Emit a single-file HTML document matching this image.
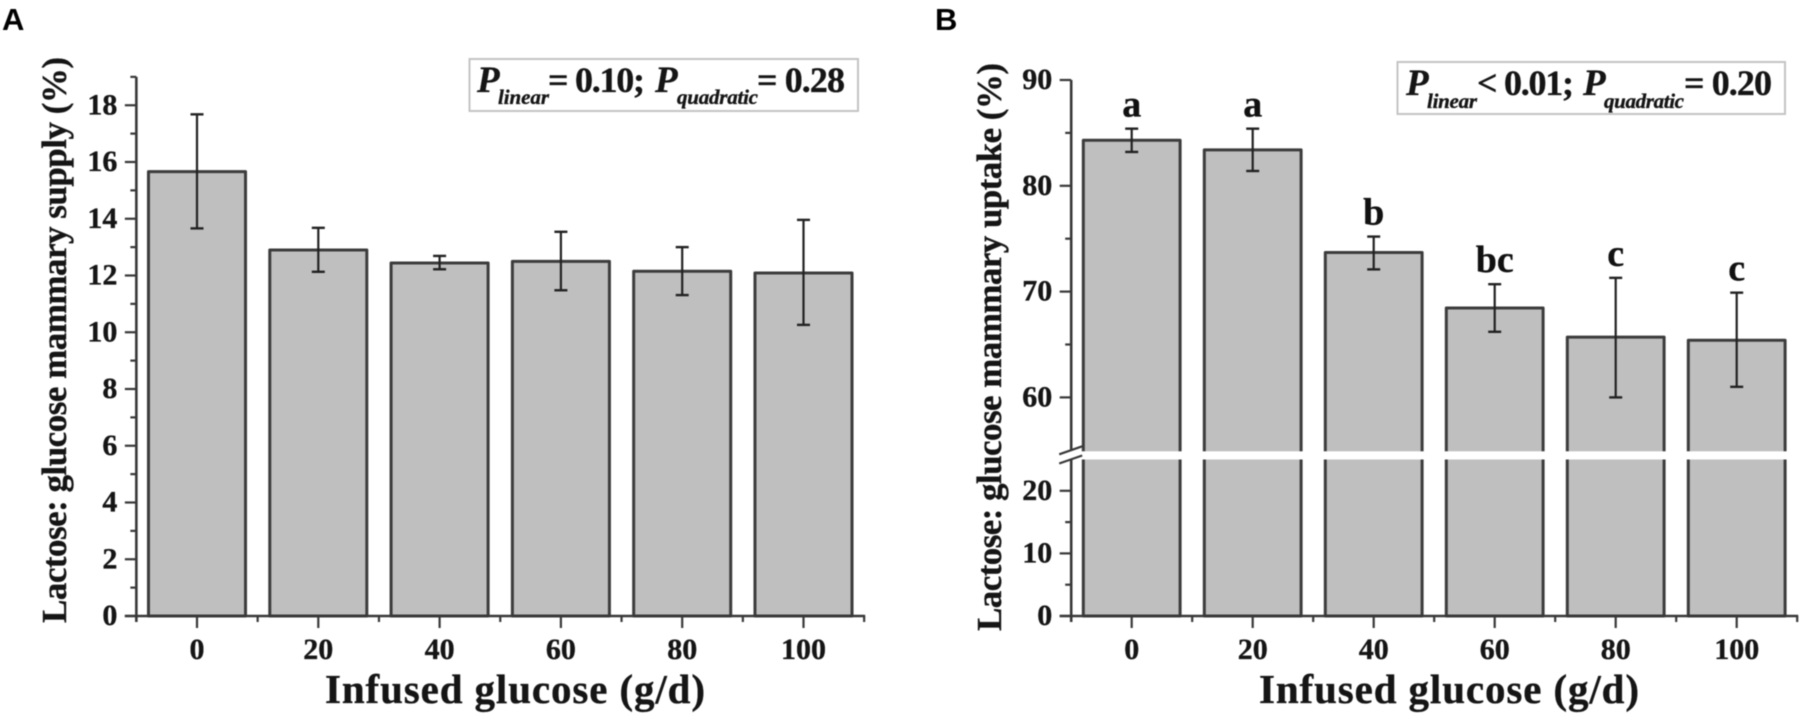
<!DOCTYPE html>
<html lang="en">
<head>
<meta charset="utf-8">
<title>Lactose: glucose mammary supply and uptake</title>
<style>
html,body{margin:0;padding:0;background:#fff;width:1800px;height:717px;overflow:hidden}
svg{display:block;filter:blur(0.6px)}
text{font-family:"Liberation Serif",serif;font-weight:bold;fill:#151515;stroke:#151515;stroke-width:.35px}
.panel{font-family:"Liberation Sans",sans-serif;font-size:31px;fill:#000;stroke:none}
.tick{font-size:30px}
.axt{font-size:41px}
.yt{font-size:35px}
.p{font-size:37px;font-style:italic}
.sub{font-size:21px;font-style:italic}
.eq{font-size:36px}
.sig{font-size:38px;fill:#111}
</style>
</head>
<body>
<svg id="fig" xmlns="http://www.w3.org/2000/svg" width="1800" height="717" viewBox="0 0 1800 717">
  <rect width="1800" height="717" fill="#fff"/>
  <text class="panel" x="2" y="30">A</text>
  <text class="panel" x="935" y="30">B</text>

  <g id="plotA"></g>
  <g id="plotB"></g>

  <text class="yt" transform="translate(66,623) rotate(-90)" textLength="566" lengthAdjust="spacing">Lactose: glucose mammary supply (%)</text>
  <text class="yt" transform="translate(1001,631) rotate(-90)" textLength="568" lengthAdjust="spacing">Lactose: glucose mammary uptake (%)</text>
  <text class="axt" x="325" y="703" textLength="380" lengthAdjust="spacing">Infused glucose (g/d)</text>
  <text class="axt" x="1259" y="703" textLength="380" lengthAdjust="spacing">Infused glucose (g/d)</text>

  <g>
    <rect x="469.5" y="59" width="388.5" height="52" fill="#fff" stroke="#c4c4c4" stroke-width="2"/>
    <text class="p" x="477" y="92">P</text>
    <text class="sub" x="498" y="104" textLength="51" lengthAdjust="spacing">linear</text>
    <text class="eq" x="548" y="92" textLength="97" lengthAdjust="spacing">= 0.10;</text>
    <text class="p" x="655" y="92">P</text>
    <text class="sub" x="677" y="104" textLength="81" lengthAdjust="spacing">quadratic</text>
    <text class="eq" x="757" y="92" textLength="88" lengthAdjust="spacing">= 0.28</text>
  </g>
  <g>
    <rect x="1397.5" y="62" width="387.5" height="52" fill="#fff" stroke="#c4c4c4" stroke-width="2"/>
    <text class="p" x="1406" y="95">P</text>
    <text class="sub" x="1427" y="108" textLength="50" lengthAdjust="spacing">linear</text>
    <text class="eq" x="1477" y="95" textLength="97" lengthAdjust="spacing">&lt; 0.01;</text>
    <text class="p" x="1583" y="95">P</text>
    <text class="sub" x="1604" y="108" textLength="80" lengthAdjust="spacing">quadratic</text>
    <text class="eq" x="1684" y="95" textLength="88" lengthAdjust="spacing">= 0.20</text>
  </g>
</svg>
<script>
// ---- Shared categories ----
const categories = [0, 20, 40, 60, 80, 100];
const xMinorTicks = [-10, 10, 30, 50, 70, 90, 110];

// ---- Panel A data ----
const supplyMeans = [15.66, 12.9, 12.44, 12.5, 12.15, 12.09];
const supplyUpper = [17.68, 13.68, 12.69, 13.54, 13.00, 13.96];
const supplyLower = [13.66, 12.13, 12.22, 11.48, 11.31, 10.26];
const supplyMajorTicks = [0, 2, 4, 6, 8, 10, 12, 14, 16, 18];
const supplyMinorTicks = [1, 3, 5, 7, 9, 11, 13, 15, 17, 19];

// ---- Panel B data ----
const uptakeMeans = [84.3, 83.4, 73.7, 68.45, 65.7, 65.4];
const uptakeUpper = [85.4, 85.4, 75.2, 70.7, 71.3, 69.9];
const uptakeLower = [83.2, 81.4, 72.1, 66.2, 60.0, 61.0];
const uptakeLetters = ["a", "a", "b", "bc", "c", "c"];
const uptakeMajorTicks = [0, 10, 20, 60, 70, 80, 90];
const uptakeMinorTicks = [5, 15, 65, 75, 85];
const uptakeBreak = [25, 55];

const NS = "http://www.w3.org/2000/svg";
const AXIS = "#383838", BAR_EDGE = "#3c3c3c", BAR_FILL = "#bfbfbf", ERR = "#222";

function make(parent, tag, props, content) {
  const el = document.createElementNS(NS, tag);
  for (const k in props) el.setAttribute(k, props[k]);
  if (content !== undefined) el.textContent = content;
  parent.appendChild(el);
  return el;
}

function line(parent, x1, y1, x2, y2, stroke, width) {
  return make(parent, "line", {x1: x1, y1: y1, x2: x2, y2: y2, stroke: stroke, "stroke-width": width});
}

function drawPanel(cfg) {
  const g = document.getElementById(cfg.id);
  const x = cfg.x, y = cfg.y, s = cfg.suffix;
  const baseY = y(0), axisX = x(-10);

  // bars and error bars
  categories.forEach(function (c, i) {
    const top = y(cfg.means[i]);
    const bar = make(g, "rect", {x: x(c - 8), y: top, width: x(c + 8) - x(c - 8), height: baseY - top,
      fill: BAR_FILL, stroke: BAR_EDGE, "stroke-width": 3, "stroke-linejoin": "round"});
    
    
  });
  categories.forEach(function (c, i) {
    const hi = y(cfg.upper[i]), lo = y(cfg.lower[i]), cx = x(c);
    const stem = line(g, cx, hi, cx, lo, ERR, 2.2);
    
    
    const capHi = line(g, cx - 6.5, hi, cx + 6.5, hi, ERR, 2.4);
    
    
    const capLo = line(g, cx - 6.5, lo, cx + 6.5, lo, ERR, 2.4);
    
    
    if (cfg.letters) {
      const sig = make(g, "text", {class: "sig", x: cx, y: hi - 12, "text-anchor": "middle"}, cfg.letters[i]);
      
      
    }
  });

  // x axis
  const xAxis = line(g, axisX - 11.5, baseY, x(110) + 1, baseY, AXIS, 2.6);
  
  
  categories.forEach(function (c) {
    const t = line(g, x(c), baseY, x(c), baseY + 12, AXIS, 2.2);
    
    
    const lab = make(g, "text", {class: "tick", x: x(c), y: baseY + 43, "text-anchor": "middle"}, String(c));
    
    
  });
  xMinorTicks.forEach(function (c) {
    const t = line(g, x(c), baseY, x(c), baseY + 6, AXIS, 2.2);
    
    
  });

  // y ticks
  cfg.major.forEach(function (v) {
    const t = line(g, axisX - 11.5, y(v), axisX, y(v), AXIS, 2.2);
    
    
    const lab = make(g, "text", {class: "tick", x: axisX - 19, y: y(v) + 9, "text-anchor": "end"}, String(v));
    
    
  });
  cfg.minor.forEach(function (v) {
    const t = line(g, axisX - 6, y(v), axisX, y(v), AXIS, 2.2);
    
    
  });

  // axis break band (panel B)
  if (cfg.breakAt) {
    const yTop = y(cfg.breakAt[1]), yBot = y(cfg.breakAt[0]);
    const band = make(g, "rect", {x: axisX - 1.5, y: yTop + 1, width: x(110) - axisX + 4, height: yBot - yTop - 1, fill: "#fff"});
    
    
    const s1 = line(g, axisX - 12, yTop + 4, axisX + 11, yTop - 4, AXIS, 2.2);
    
    
    const s2 = line(g, axisX - 12, yBot + 4, axisX + 11, yBot - 4, AXIS, 2.2);
    
    
    const upperAxis = line(g, axisX, y(cfg.top), axisX, yTop, AXIS, 2.6);
    
    
    const lowerAxis = line(g, axisX, yBot, axisX, baseY + 6, AXIS, 2.6);
    
    
  } else {
    const yAxis = line(g, axisX, y(cfg.top), axisX, baseY + 6, AXIS, 2.6);
    
    
  }
}

// ---- Axis functions ----
function xScaleA(v) { return 197 + v * 6.065; }
function yScaleA(v) { return 616 - v * 28.375; }
function xScaleB(v) { return 1131.7 + v * 6.05; }
function yScaleB(v) {
  return v > 40 ? 80 + (90 - v) * 10.58 : 616 - v * 6.26;
}

drawPanel({id: "plotA", suffix: "a", x: xScaleA, y: yScaleA, means: supplyMeans, upper: supplyUpper,
  lower: supplyLower, major: supplyMajorTicks, minor: supplyMinorTicks, top: 19});
drawPanel({id: "plotB", suffix: "b", x: xScaleB, y: yScaleB, means: uptakeMeans, upper: uptakeUpper,
  lower: uptakeLower, major: uptakeMajorTicks, minor: uptakeMinorTicks, top: 90,
  letters: uptakeLetters, breakAt: uptakeBreak});
</script>
</body>
</html>
